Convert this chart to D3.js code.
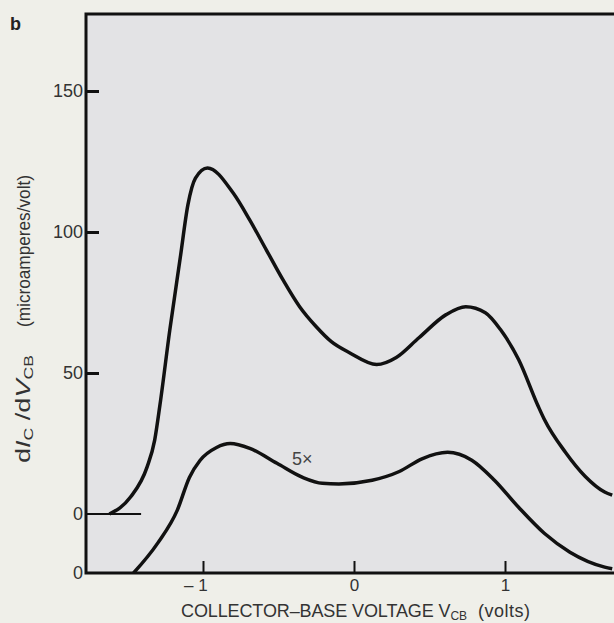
<!DOCTYPE html>
<html>
<head>
<meta charset="utf-8">
<script src="https://cdn.jsdelivr.net/npm/d3@7"></script>
<style>
  body { margin: 0; background: #efefe9; }
  svg { display: block; font-family: "Liberation Sans", Arial, sans-serif; }
</style>
</head>
<body>
<div id="chart"></div>
<script>
// Data
const upperVolts = [-1.62, -1.48, -1.37, -1.32, -1.285, -1.22, -1.15, -1.10, -1.05, -0.97, -0.80, -0.69, -0.58, -0.47, -0.36, -0.25, -0.15, -0.03, 0.15, 0.28, 0.43, 0.61, 0.74, 0.87, 0.97, 1.09, 1.22, 1.26, 1.40, 1.53, 1.66, 1.71];
const upperCurrent = [0, 6.0, 16.7, 26.2, 38.7, 65.2, 91.1, 109.6, 119.1, 122.7, 113.8, 104.2, 93.6, 83.0, 73.5, 66.4, 61.1, 57.2, 53.0, 55.5, 62.5, 70.7, 73.5, 71.4, 65.4, 54.8, 38.2, 33.6, 21.9, 13.4, 7.8, 6.7];
// lower curve is the 5x trace, plotted against its own zero
const lowerVolts = [-1.46, -1.30, -1.17, -1.09, -1.02, -0.91, -0.82, -0.69, -0.51, -0.34, -0.21, -0.10, 0.12, 0.30, 0.45, 0.62, 0.78, 0.93, 1.09, 1.26, 1.43, 1.66, 1.71];
const lowerCurrent = [0, 10.6, 22.3, 33.9, 39.9, 44.5, 45.9, 44.2, 38.9, 33.9, 31.8, 31.6, 32.9, 36.0, 40.5, 42.8, 40.0, 32.9, 23.3, 14.1, 7.4, 2.1, 1.5];
const xTicks = [-1, 0, 1];
const yTicks = [0, 50, 100, 150];

const W = 614, H = 623;
const margin = { left: 86, top: 14, right: 614, bottom: 573 };

const svg = d3.select("#chart").append("svg")
  .attr("width", W)
  .attr("height", H);

// scales
const x = d3.scaleLinear().domain([-1, 1]).range([203, 505]);
const y = d3.scaleLinear().domain([0, 150]).range([514, 91]);
const yLow = d3.scaleLinear().domain([0, 150]).range([margin.bottom, margin.bottom - (514 - 91)]);

// plot background
svg.append("rect")
  .attr("x", margin.left).attr("y", margin.top)
  .attr("width", margin.right - margin.left).attr("height", margin.bottom - margin.top)
  .attr("fill", "#e3e3e5");

svg.append("clipPath").attr("id", "clip")
  .append("rect")
  .attr("x", margin.left).attr("y", margin.top)
  .attr("width", margin.right - margin.left).attr("height", margin.bottom - margin.top);

// baseline for upper curve
svg.append("line")
  .attr("x1", margin.left).attr("x2", x(-1.41))
  .attr("y1", y(0)).attr("y2", y(0))
  .attr("stroke", "#111").attr("stroke-width", 2.2);

const line = d3.line().curve(d3.curveMonotoneX);

svg.append("path")
  .attr("clip-path", "url(#clip)")
  .attr("d", line(upperVolts.map((v, i) => [x(v), y(upperCurrent[i])])))
  .attr("fill", "none")
  .attr("stroke", "#111")
  .attr("stroke-width", 3.5);

svg.append("path")
  .attr("clip-path", "url(#clip)")
  .attr("d", line(lowerVolts.map((v, i) => [x(v), yLow(lowerCurrent[i])])))
  .attr("fill", "none")
  .attr("stroke", "#111")
  .attr("stroke-width", 3.5);

// y axis (ticks point inward)
const yAxis = svg.append("g")
  .attr("transform", `translate(${margin.left},0)`)
  .call(d3.axisLeft(y).tickValues(yTicks).tickSize(-13).tickPadding(3));
yAxis.select(".domain").remove();
yAxis.selectAll(".tick line").attr("stroke", "#111").attr("stroke-width", 3)
  .filter(d => d === 0).remove();
yAxis.selectAll(".tick text")
  .attr("font-size", 18).attr("fill", "#333").attr("font-family", null);

// second zero for the lower trace
svg.append("text")
  .attr("x", margin.left - 3).attr("y", yLow(0))
  .attr("dy", "0.32em")
  .attr("text-anchor", "end")
  .attr("font-size", 18).attr("fill", "#333")
  .text("0");

// x axis (ticks point inward)
const xAxis = svg.append("g")
  .attr("transform", `translate(0,${margin.bottom})`)
  .call(d3.axisBottom(x).tickValues(xTicks).tickSize(-12).tickPadding(6)
    .tickFormat(d => d < 0 ? "– " + Math.abs(d) : d));
xAxis.select(".domain").remove();
xAxis.selectAll(".tick line").attr("stroke", "#111").attr("stroke-width", 2);
xAxis.selectAll(".tick text")
  .attr("font-size", 17).attr("fill", "#333").attr("font-family", null)
  .attr("dx", d => d < 0 ? "-0.45em" : 0);

// frame: left, top, bottom
svg.append("path")
  .attr("d", `M${margin.right},${margin.top}H${margin.left}V${margin.bottom}H${margin.right}`)
  .attr("fill", "none")
  .attr("stroke", "#111")
  .attr("stroke-width", 3);

// axis titles
const xt = svg.append("text")
  .attr("x", 181).attr("y", 617)
  .attr("font-size", 18).attr("fill", "#333")
  .attr("textLength", 286).attr("lengthAdjust", "spacing");
xt.append("tspan").text("COLLECTOR–BASE VOLTAGE V");
xt.append("tspan").attr("font-size", 12).attr("dy", 3).text("CB");

svg.append("text")
  .attr("x", 478).attr("y", 617)
  .attr("font-size", 18).attr("fill", "#333")
  .attr("textLength", 52).attr("lengthAdjust", "spacing")
  .text("(volts)");

const yt = svg.append("text")
  .attr("transform", "translate(30,463) rotate(-90)")
  .attr("font-size", 20).attr("fill", "#333")
  .attr("textLength", 108).attr("lengthAdjust", "spacingAndGlyphs");
yt.append("tspan").text("d");
yt.append("tspan").attr("font-style", "italic").text("I");
yt.append("tspan").attr("font-size", 13).attr("dy", 3).text("C");
yt.append("tspan").attr("dy", -3).text(" /d");
yt.append("tspan").attr("font-style", "italic").text("V");
yt.append("tspan").attr("font-size", 13).attr("dy", 3).text("CB");

svg.append("text")
  .attr("transform", "translate(30,327) rotate(-90)")
  .attr("font-size", 18).attr("fill", "#333")
  .attr("textLength", 152).attr("lengthAdjust", "spacingAndGlyphs")
  .text("(microamperes/volt)");

// annotations
svg.append("text")
  .attr("x", 292).attr("y", 465)
  .attr("font-size", 18).attr("fill", "#444")
  .text("5×");

svg.append("text")
  .attr("x", 10).attr("y", 30)
  .attr("font-size", 18).attr("font-weight", "bold").attr("fill", "#222")
  .text("b");
</script>
</body>
</html>
